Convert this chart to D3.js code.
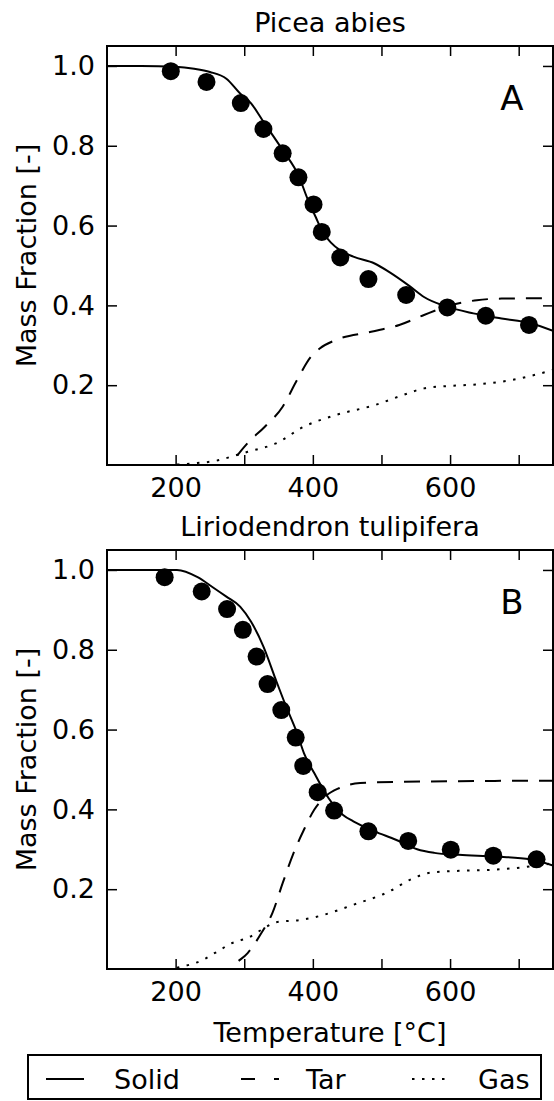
<!DOCTYPE html>
<html>
<head>
<meta charset="utf-8">
<script src="https://cdn.jsdelivr.net/npm/d3@7"></script>
<style>
  body { margin: 0; background: #fff; }
  text { font-family: "DejaVu Sans", sans-serif; fill: #000; }
</style>
</head>
<body>
<div id="chart"></div>
<script>
var svgWidth = 554;
var svgHeight = 1101;

// Picea abies (panel A)
var solidTempA = [100, 150, 200, 227, 250, 274, 294, 310, 328, 356, 380, 392, 404, 415, 426, 440, 459, 490, 511, 542, 562, 593, 634, 675, 717, 750];
var solidMassA = [1.0, 1.0, 0.998, 0.993, 0.985, 0.968, 0.931, 0.906, 0.860, 0.789, 0.722, 0.668, 0.622, 0.582, 0.558, 0.538, 0.522, 0.505, 0.484, 0.447, 0.421, 0.398, 0.380, 0.367, 0.355, 0.336];
var tarTempA = [100, 280, 287, 305, 330, 356, 377, 397, 410, 433, 485, 526, 562, 593, 639, 675, 750];
var tarMassA = [0, 0, 0.017, 0.055, 0.096, 0.146, 0.213, 0.271, 0.292, 0.313, 0.334, 0.351, 0.376, 0.396, 0.413, 0.417, 0.418];
var gasTempA = [100, 180, 225, 260, 289, 305, 346, 387, 433, 490, 531, 562, 598, 639, 690, 750];
var gasMassA = [0, 0, 0.004, 0.011, 0.025, 0.033, 0.054, 0.096, 0.125, 0.150, 0.175, 0.192, 0.198, 0.202, 0.213, 0.238];
var expTempA = [193, 245, 295, 328, 356, 379, 401, 413, 440, 481, 536, 596, 652, 715];
var expMassA = [0.987, 0.960, 0.907, 0.842, 0.781, 0.721, 0.653, 0.584, 0.520, 0.466, 0.426, 0.395, 0.374, 0.351];

// Liriodendron tulipifera (panel B)
var solidTempB = [100, 150, 202, 232, 253, 274, 294, 310, 328, 346, 361, 377, 387, 402, 423, 444, 459, 490, 521, 552, 577, 613, 665, 717, 750];
var solidMassB = [1.0, 1.0, 1.0, 0.982, 0.958, 0.933, 0.908, 0.870, 0.808, 0.725, 0.658, 0.591, 0.541, 0.491, 0.428, 0.386, 0.370, 0.345, 0.324, 0.300, 0.291, 0.286, 0.282, 0.275, 0.259];
var tarTempB = [100, 280, 287, 305, 325, 341, 356, 372, 387, 402, 418, 438, 469, 520, 750];
var tarMassB = [0, 0, 0.013, 0.040, 0.090, 0.140, 0.215, 0.291, 0.349, 0.399, 0.432, 0.453, 0.466, 0.469, 0.472];
var gasTempB = [100, 190, 211, 225, 240, 255, 267, 277, 289, 305, 325, 346, 382, 408, 459, 511, 542, 573, 613, 665, 717, 750];
var gasMassB = [0, 0, 0.007, 0.013, 0.023, 0.038, 0.050, 0.061, 0.069, 0.078, 0.098, 0.117, 0.123, 0.132, 0.161, 0.194, 0.224, 0.242, 0.246, 0.249, 0.257, 0.265];
var expTempB = [184, 238, 275, 298, 318, 334, 354, 375, 386, 407, 431, 481, 539, 601, 663, 726];
var expMassB = [0.982, 0.946, 0.902, 0.850, 0.783, 0.714, 0.649, 0.580, 0.509, 0.443, 0.397, 0.345, 0.321, 0.299, 0.284, 0.275];

// axis ticks
var xTicks = [200, 300, 400, 500, 600, 700];
var xTickLabels = [200, 400, 600];
var yTicks = [0.2, 0.4, 0.6, 0.8, 1.0];

var legendNames = ["Solid", "Tar", "Gas"];

var panels = [
  { title: "Picea abies", letter: "A", top: 46, solid: [solidTempA, solidMassA], tar: [tarTempA, tarMassA], gas: [gasTempA, gasMassA], exp: [expTempA, expMassA] },
  { title: "Liriodendron tulipifera", letter: "B", top: 550, solid: [solidTempB, solidMassB], tar: [tarTempB, tarMassB], gas: [gasTempB, gasMassB], exp: [expTempB, expMassB] }
];

var left = 107, right = 553, plotH = 419;
var fontSize = 27;

var svg = d3.select("#chart")
  .append("svg")
  .attr("width", svgWidth)
  .attr("height", svgHeight);

var xScale = d3.scaleLinear().domain([100, 750]).range([left, right]);

function zip(pair) {
  return pair[0].map((t, i) => [t, pair[1][i]]);
}

panels.forEach(function (p, k) {
  var yScale = d3.scaleLinear().domain([0, 1.05]).range([p.top + plotH, p.top]);
  var g = svg.append("g");

  var clipId = "clip" + k;
  svg.append("clipPath").attr("id", clipId)
    .append("rect")
    .attr("x", left).attr("y", p.top)
    .attr("width", right - left).attr("height", plotH);

  var line = d3.line()
    .x(d => xScale(d[0]))
    .y(d => yScale(d[1]))
    .curve(d3.curveMonotoneX);

  var plot = g.append("g").attr("clip-path", `url(#${clipId})`);

  plot.append("path")
    .attr("d", line(zip(p.gas)))
    .attr("fill", "none").attr("stroke", "#000").attr("stroke-width", 2)
    .attr("stroke-dasharray", "2.5,7.5");

  plot.append("path")
    .attr("d", line(zip(p.tar)))
    .attr("fill", "none").attr("stroke", "#000").attr("stroke-width", 2)
    .attr("stroke-dasharray", "16,11");

  plot.append("path")
    .attr("d", line(zip(p.solid)))
    .attr("fill", "none").attr("stroke", "#000").attr("stroke-width", 2);

  plot.selectAll("circle")
    .data(zip(p.exp))
    .enter()
    .append("circle")
    .attr("cx", d => xScale(d[0]))
    .attr("cy", d => yScale(d[1]))
    .attr("r", 9)
    .attr("fill", "#000");

  // axes, ticks pointing inward on all four sides
  var bottom = g.append("g")
    .attr("transform", `translate(0, ${p.top + plotH})`)
    .call(d3.axisBottom(xScale).tickValues(xTicks).tickSizeInner(-10).tickSizeOuter(0).tickPadding(13)
      .tickFormat(d => xTickLabels.includes(d) ? d : ""));
  var top = g.append("g")
    .attr("transform", `translate(0, ${p.top})`)
    .call(d3.axisTop(xScale).tickValues(xTicks).tickSizeInner(-10).tickSizeOuter(0).tickFormat(""));
  var leftAx = g.append("g")
    .attr("transform", `translate(${left}, 0)`)
    .call(d3.axisLeft(yScale).tickValues(yTicks).tickSizeInner(-10).tickSizeOuter(0).tickPadding(12)
      .tickFormat(d3.format(".1f")));
  var rightAx = g.append("g")
    .attr("transform", `translate(${right}, 0)`)
    .call(d3.axisRight(yScale).tickValues(yTicks).tickSizeInner(-10).tickSizeOuter(0).tickFormat(""));

  [bottom, top, leftAx, rightAx].forEach(function (a) {
    a.select(".domain").remove();
    a.selectAll("line").attr("stroke", "#000").attr("stroke-width", 1.5);
    a.selectAll("text").attr("font-size", fontSize).attr("font-family", "DejaVu Sans");
  });

  // frame
  g.append("rect")
    .attr("x", left).attr("y", p.top)
    .attr("width", right - left).attr("height", plotH)
    .attr("fill", "none").attr("stroke", "#000").attr("stroke-width", 2);

  // title
  g.append("text")
    .attr("x", (left + right) / 2)
    .attr("y", p.top - 14)
    .attr("text-anchor", "middle")
    .attr("font-size", fontSize)
    .text(p.title);

  // panel letter
  g.append("text")
    .attr("x", 512)
    .attr("y", p.top + 64)
    .attr("text-anchor", "middle")
    .attr("font-size", 34)
    .text(p.letter);

  // y label
  g.append("text")
    .attr("transform", `translate(36, ${p.top + plotH / 2}) rotate(-90)`)
    .attr("text-anchor", "middle")
    .attr("font-size", fontSize)
    .text("Mass Fraction [-]");
});

// x label
svg.append("text")
  .attr("x", (left + right) / 2)
  .attr("y", 1042)
  .attr("text-anchor", "middle")
  .attr("font-size", fontSize)
  .text("Temperature [°C]");

// legend
var legend = svg.append("g");
legend.append("rect")
  .attr("x", 28).attr("y", 1055)
  .attr("width", 513).attr("height", 44)
  .attr("fill", "#fff").attr("stroke", "#000").attr("stroke-width", 2);

var handleX = [46, 241, 412];
var textX = [114, 306, 478];
var dashes = [null, "14,19", "2.5,7.5"];

legendNames.forEach(function (name, i) {
  legend.append("line")
    .attr("x1", handleX[i]).attr("x2", handleX[i] + 38)
    .attr("y1", 1079).attr("y2", 1079)
    .attr("stroke", "#000").attr("stroke-width", 2)
    .attr("stroke-dasharray", dashes[i]);
  legend.append("text")
    .attr("x", textX[i])
    .attr("y", 1089)
    .attr("font-size", fontSize)
    .text(name);
});
</script>
</body>
</html>
